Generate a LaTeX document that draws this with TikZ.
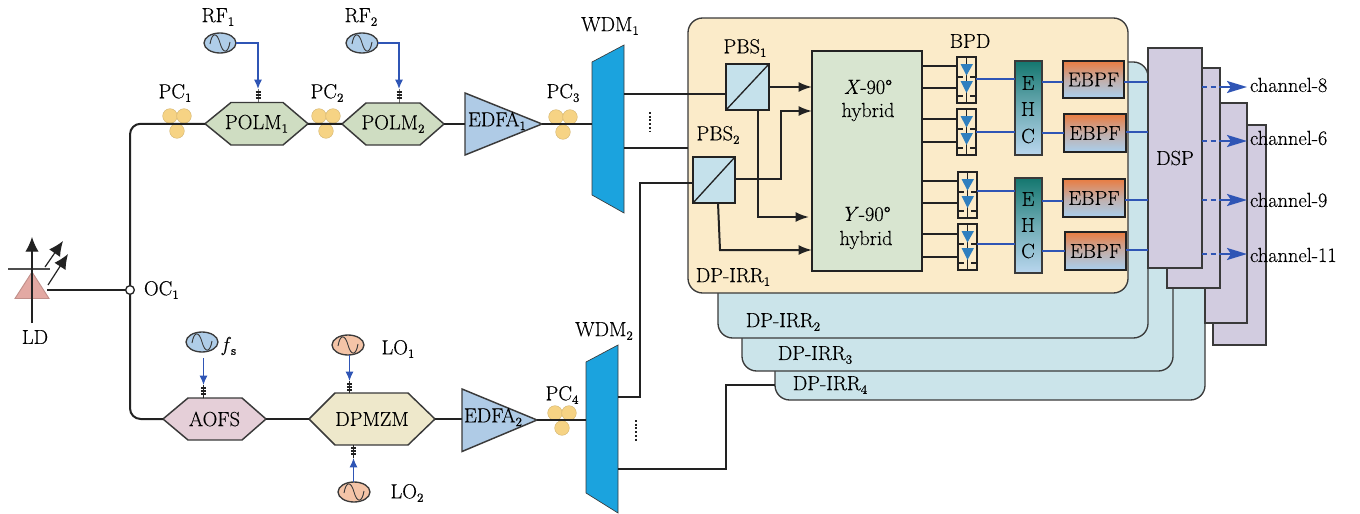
\documentclass[tikz,border=0pt]{standalone}
\usepackage{fontspec}
\setmainfont{Latin Modern Roman}[FakeBold=0.25]
\usetikzlibrary{arrows.meta,shapes.geometric}
\definecolor{wireK}{HTML}{222222}
\definecolor{sigB}{HTML}{2F55B5}
\definecolor{edgeK}{HTML}{3A3A3A}
\definecolor{hexG}{HTML}{CFDDC2}
\definecolor{hexP}{HTML}{E5CFD8}
\definecolor{hexY}{HTML}{EEE8CB}
\definecolor{ampB}{HTML}{AFCBE6}
\definecolor{wdmB}{HTML}{1BA3DE}
\definecolor{pcY}{HTML}{F6D384}
\definecolor{oscB}{HTML}{AFCDE8}
\definecolor{oscO}{HTML}{F4C4A7}
\definecolor{irrY}{HTML}{FBEBC9}
\definecolor{irrC}{HTML}{CBE4EA}
\definecolor{dspV}{HTML}{D2CCE0}
\definecolor{pbsC}{HTML}{C5E1EB}
\definecolor{hybG}{HTML}{D8E5D0}
\definecolor{ehcT}{HTML}{14776F}
\definecolor{ehcB}{HTML}{B9D6EE}
\definecolor{ebpfO}{HTML}{E97C41}
\definecolor{ebpfB}{HTML}{A9CFEE}
\definecolor{triB}{HTML}{2F7FBF}
\definecolor{ldR}{HTML}{E3A9A3}
\newcommand{\sbs}[1]{\raisebox{-.42ex}{\fontsize{9.5}{10}\selectfont #1}}
\tikzset{
  x=0.75pt,y=-0.75pt,
  every node/.style={inner sep=0pt,outer sep=0pt,font=\fontsize{15.3}{17}\selectfont,text=black},
  wire/.style={draw=wireK,line width=1.5pt},
  arrowwire/.style={wire,-{Latex[length=10pt,width=7.5pt]}},
  sig/.style={draw=sigB,line width=1pt},
  sigarrow/.style={sig,-{Latex[length=7pt,width=6pt]}},
  outdash/.style={draw=sigB,line width=1.7pt,dash pattern=on 4pt off 2.5pt},
  outtip/.style={draw=sigB,line width=1.7pt,-{Stealth[length=15pt,width=9pt,inset=3pt]}},
  ldarrow/.style={draw=wireK,line width=.9pt,-{Latex[length=11pt,width=10pt]}},
  bx/.style={draw=edgeK,line width=1.1pt},
  heavybx/.style={draw=wireK,line width=1.5pt},
  ehcbox/.style={bx,top color=ehcT,bottom color=ehcB,middle color=ehcT!45!ehcB},
  ebpfbox/.style={heavybx,top color=ebpfO,bottom color=ebpfB,middle color=ebpfO!40!ebpfB},
  irrbox/.style={draw=edgeK,line width=1pt,rounded corners=11pt},
  dotcol/.style={draw=wireK,line width=1.6pt,dash pattern=on 1.4pt off 1.4pt},
}
\newcommand{\cornerbox}[7]{\node[#6,minimum width={(#4-#2)*0.75pt},minimum height={(#5-#3)*0.75pt}] (#1) at ({(#2+#4)/2},{(#3+#5)/2}) {#7};}
\newcommand{\hexn}[9]{%
  \path[bx,fill=#8] (#2,{(#6+#7)/2}) -- (#3,#6) -- (#4,#6) -- (#5,{(#6+#7)/2}) -- (#4,#7) -- (#3,#7) -- cycle;
  \cornerbox{#1}{#2}{#6}{#5}{#7}{}{#9}}
\newcommand{\osc}[4]{%
  \node[draw=edgeK,line width=1pt,fill=#4,ellipse,minimum width=24pt,minimum height=15pt] (#1) at (#2,#3) {};
  \begin{scope}[shift={(#2,#3)}]
  \draw[edgeK,line width=.7pt] (-10,1) .. controls (-8,-11) and (-3,-11) .. (0,0) .. controls (3,11) and (8,11) .. (10,-1);
  \end{scope}}
\newcommand{\port}[4]{%
  \cornerbox{#1}{#2-2.5}{#3}{#2+2.5}{#4}{draw=wireK,line width=.7pt,fill=white}{}
  \foreach \hh in {3,6,9} {\draw[wireK,line width=.8pt] ({#2-2.5},{#3+\hh}) -- ({#2+2.5},{#3+\hh});}}
\newcommand{\pcs}[3]{%
  \node[circle,fill=pcY,draw=pcY!85!black,line width=.3pt,minimum size=11pt] (#1a) at (#2,#3) {};
  \node[circle,fill=pcY,draw=pcY!85!black,line width=.3pt,minimum size=11pt] (#1b) at ({#2+14},#3) {};
  \node[circle,fill=pcY,draw=pcY!85!black,line width=.3pt,minimum size=11pt] (#1c) at ({#2+7},{#3+15}) {};}
\newcommand{\bpdbox}[3]{%
  \cornerbox{#1}{#2}{#3}{#2+19}{#3+46}{heavybx,fill=irrY}{}
  \begin{scope}[shift={(#2,#3)}]
  \draw[wireK,line width=.9pt] (9.5,0) -- (9.5,46);
  \draw[wireK,line width=.9pt] (0,20) -- (6,20) (13,20) -- (19,20) (0,39) -- (6,39) (13,39) -- (19,39);
  \fill[triB] (3.5,7) -- (16,7) -- (9.5,18.5) -- cycle;
  \fill[triB] (3.5,24) -- (16,24) -- (9.5,36) -- cycle;
  \end{scope}}
\begin{document}
\begin{tikzpicture}
\useasboundingbox (0,0) rectangle (1360,514);

% ---- DP-IRR stack
\cornerbox{irr4}{775}{110}{1205}{400}{irrbox,fill=irrC}{}
\cornerbox{irr3}{742}{90}{1173}{371}{irrbox,fill=irrC}{}
\cornerbox{irr2}{718}{62}{1148}{338}{irrbox,fill=irrC}{}
\cornerbox{irr1}{688}{18}{1128}{293}{irrbox,fill=irrY}{}
\node (irr1t) at (733,277) {DP-IRR\sbs{1}};
\node (irr2t) at (783,322) {DP-IRR\sbs{2}};
\node (irr3t) at (815,355) {DP-IRR\sbs{3}};
\node (irr4t) at (830,385) {DP-IRR\sbs{4}};

% ---- DSP stack
\cornerbox{dsp4}{1213}{125}{1266}{345}{bx,fill=dspV}{}
\cornerbox{dsp3}{1205}{103}{1247}{323}{bx,fill=dspV}{}
\cornerbox{dsp2}{1167}{68}{1220}{288}{bx,fill=dspV}{}
\cornerbox{dsp1}{1148}{48}{1202}{268}{bx,fill=dspV}{DSP}

% ---- Laser
\path[draw=ldR!85!black,line width=.7pt,fill=ldR] (32,272) -- (49,298.5) -- (15,298.5) -- cycle;
\cornerbox{ld}{15}{272}{49}{298.5}{}{}
\coordinate (ldout) at (47,290);
\coordinate (ldbot) at (32,323);
\coordinate (ldtop) at (32,237);
\coordinate (ldl) at (8,269);
\coordinate (ldr) at (50,269);
\coordinate (ldaa) at (45,267);
\coordinate (ldab) at (63,241);
\coordinate (ldba) at (48,285);
\coordinate (ldbb) at (68,254);
\draw[wireK!80,line width=1pt] (ldl) -- (ldr);
\draw[ldarrow] (ldbot) -- (ldtop);
\draw[ldarrow] (ldaa) -- (ldab);
\draw[ldarrow] (ldba) -- (ldbb);
\node (ldt) at (35,337) {LD};
\node[circle,draw=wireK,line width=1pt,fill=white,minimum size=6.5pt] (oc) at (130,290) {};
\node[anchor=west] (oct) at (144,290) {OC\sbs{1}};

% ---- top branch
\pcs{pca}{170}{116}
\node (pcat) at (175,93) {PC\sbs{1}};
\pcs{pcb}{319}{116}
\node (pcbt) at (327,93) {PC\sbs{2}};
\pcs{pcc}{556}{117}
\node (pcct) at (563,93) {PC\sbs{3}};
\hexn{polma}{205}{231}{283}{308}{102.5}{145}{hexG}{POLM\sbs{1}}
\hexn{polmb}{342}{366}{420}{444}{103}{145}{hexG}{POLM\sbs{2}}
\osc{rfa}{220}{43}{oscB}
\node (rfat) at (218,17) {RF\sbs{1}};
\osc{rfb}{362}{43}{oscB}
\node (rfbt) at (361,17) {RF\sbs{2}};
\port{pta}{258}{89}{102.5}
\port{ptb}{399}{89}{103}
\path[bx,fill=ampB] (465,93) -- (542,124) -- (465,155) -- cycle;
\cornerbox{edfaa}{465}{93}{542}{155}{}{}
\node (edfaat) at (497,121) {EDFA\sbs{1}};
\path[draw=edgeK,line width=.5pt,fill=wdmB] (592,62) -- (624,45) -- (624,213) -- (592,195) -- cycle;
\cornerbox{wdma}{592}{45}{624}{213}{}{}
\node (wdmat) at (610,26) {WDM\sbs{1}};

% ---- bottom branch
\hexn{aofs}{163}{188}{242}{266}{398}{440}{hexP}{AOFS}
\hexn{dpmzm}{309}{335}{408}{435}{393}{445}{hexY}{DPMZM}
\osc{fso}{202}{342}{oscB}
\node (fst) at (229,346) {\textit{f}\sbs{s}};
\osc{loa}{348}{345}{oscO}
\node (loat) at (398,349) {LO\sbs{1}};
\osc{lob}{354}{492}{oscO}
\node (lobt) at (407,493) {LO\sbs{2}};
\port{ptf}{203.5}{385}{398}
\port{ptl}{349.5}{381}{393}
\port{ptm}{353.5}{445}{458}
\path[bx,fill=ampB] (462,389) -- (537,420) -- (462,451.5) -- cycle;
\cornerbox{edfab}{462}{389}{537}{451.5}{}{}
\node (edfabt) at (493,417) {EDFA\sbs{2}};
\pcs{pcd}{555}{413}
\node (pcdt) at (562,395) {PC\sbs{4}};
\path[draw=edgeK,line width=.5pt,fill=wdmB] (586,362) -- (618,345) -- (618,513) -- (586,493) -- cycle;
\cornerbox{wdmb}{586}{345}{618}{513}{}{}
\node (wdmbt) at (604,331) {WDM\sbs{2}};

% ---- receiver
\cornerbox{pbsa}{726}{64}{769}{110}{heavybx,fill=pbsC}{}
\draw[wireK,line width=1pt] (pbsa.south west) -- (pbsa.north east);
\node (pbsat) at (745,48) {PBS\sbs{1}};
\cornerbox{pbsb}{693}{157}{735}{203}{heavybx,fill=pbsC}{}
\draw[wireK,line width=1pt] (pbsb.south west) -- (pbsb.north east);
\node (pbsbt) at (718,135) {PBS\sbs{2}};
\cornerbox{hyb}{812}{51}{922}{271}{heavybx,fill=hybG}{}
\node (hxa) at (868,87) {\textit{X}-90°};
\node (hxb) at (868,112) {hybrid};
\node (hya) at (866,214) {\textit{Y}-90°};
\node (hyb2) at (866,240) {hybrid};
\node (bpdt) at (970,41) {BPD};
\bpdbox{bpda}{957}{57}
\bpdbox{bpdb}{957}{109}
\bpdbox{bpdc}{958}{172}
\bpdbox{bpdd}{958}{224}
\cornerbox{ehca}{1015}{61}{1042}{155}{ehcbox}{}
\cornerbox{ehcb}{1015}{178}{1042}{273}{ehcbox}{}
\node (ea) at (1028,83) {E};
\node (ha) at (1028,109) {H};
\node (ca) at (1028,136) {C};
\node (eb) at (1028,199) {E};
\node (hb) at (1028,225) {H};
\node (cb) at (1028,251) {C};
\cornerbox{fa}{1063}{61}{1124}{98}{ebpfbox}{EBPF}
\cornerbox{fb}{1064}{114}{1126}{152}{ebpfbox}{EBPF}
\cornerbox{fc}{1063}{179}{1125}{217}{ebpfbox}{EBPF}
\cornerbox{fd}{1065}{232}{1126}{270}{ebpfbox}{EBPF}
\node[anchor=west] (cha) at (1250,85) {channel-8};
\node[anchor=west] (chb) at (1250,138) {channel-6};
\node[anchor=west] (chc) at (1250,200) {channel-9};
\node[anchor=west] (chd) at (1250,255) {channel-11};

% ---- optical wires
\draw[wire] (ldout) -- (oc.west);
\draw[wire,rounded corners=8pt] (oc.north) |- (polma.west);
\draw[wire,rounded corners=8pt] (oc.south) |- (aofs.west);
\draw[wire] (polma.east) -- (polmb.west);
\draw[wire] (polmb.east) -- (edfaa.west |- polmb.east);
\draw[wire] (edfaa.east) -- (wdma.west |- edfaa.east);
\draw[wire] (aofs.east) -- (dpmzm.west);
\draw[wire] (dpmzm.east) -- (edfab.west |- dpmzm.east);
\draw[wire] (edfab.east) -- (wdmb.west |- edfab.east);
\coordinate (pain) at (726,94);
\coordinate (irrin) at (688,148);
\coordinate (pbin) at (693,183);
\coordinate (pbup) at (640,183);
\draw[wire] (wdma.east |- pain) -- (pain);
\draw[wire] (wdma.east |- irrin) -- (irrin);
\draw[dotcol] (650,112) -- (650,132);
\draw[dotcol] (636,420) -- (636,441);
\coordinate (wba) at (618,397);
\coordinate (wbb) at (618,469);
\coordinate (irrd) at (775,385);
\coordinate (irrc) at (726,385);
\draw[wire] (wba) -| (pbup) -- (pbin);
\draw[wire] (wbb) -| (irrc) -- (irrd);

% ---- PBS to hybrid
\draw[arrowwire] (pbsa.east |- 0,87) -- (hyb.west |- 0,87);
\draw[arrowwire] (pbsb.east |- 0,179) -- (781,179) -- (781,111) -- (hyb.west |- 0,111);
\draw[arrowwire] (758,110) -- (758,217) -- (809,217);
\draw[arrowwire] (718,203) -- (720,250) -- (hyb.west |- 0,250);

% ---- hybrid to BPD
\foreach \yy/\bb in {66/bpda,88/bpda,119/bpdb,142/bpdb,181/bpdc,203/bpdc,234/bpdd,257/bpdd}
  {\draw[wire] (hyb.east |- 0,\yy) -- (\bb.west |- 0,\yy);}

% ---- electrical links
\foreach \yy/\aa/\bb in {79/bpda/ehca,132/bpdb/ehca,191/bpdc/ehcb,244/bpdd/ehcb}
  {\draw[sig] (\aa.east |- 0,\yy) -- (\bb.west |- 0,\yy);}
\foreach \yy/\aa/\bb in {82/ehca/fa,133/ehca/fb,201/ehcb/fc,251/ehcb/fd}
  {\draw[sig] (\aa.east |- 0,\yy) -- (\bb.west |- 0,\yy);}
\foreach \yy/\aa in {82/fa,132/fb,200/fc,250/fd}
  {\draw[sig] (\aa.east |- 0,\yy) -- (dsp1.west |- 0,\yy);}
\foreach \yy in {87,141,200,254}
  {\draw[outdash] (dsp1.east |- 0,\yy) -- (1224,\yy);
   \draw[outtip] (1224,\yy) -- (dsp3.east |- 0,\yy);}

% ---- RF drives
\draw[sigarrow] (rfa.east) -| (pta.north);
\draw[sigarrow] (rfb.east) -| (ptb.north);
\coordinate (fsoa) at (203.5,358);
\draw[sigarrow] (fsoa) -- (ptf.north);
\draw[sigarrow] (loa.south -| ptl.north) -- (ptl.north);
\draw[sigarrow] (lob.north -| ptm.south) -- (ptm.south);
\end{tikzpicture}
\end{document}
